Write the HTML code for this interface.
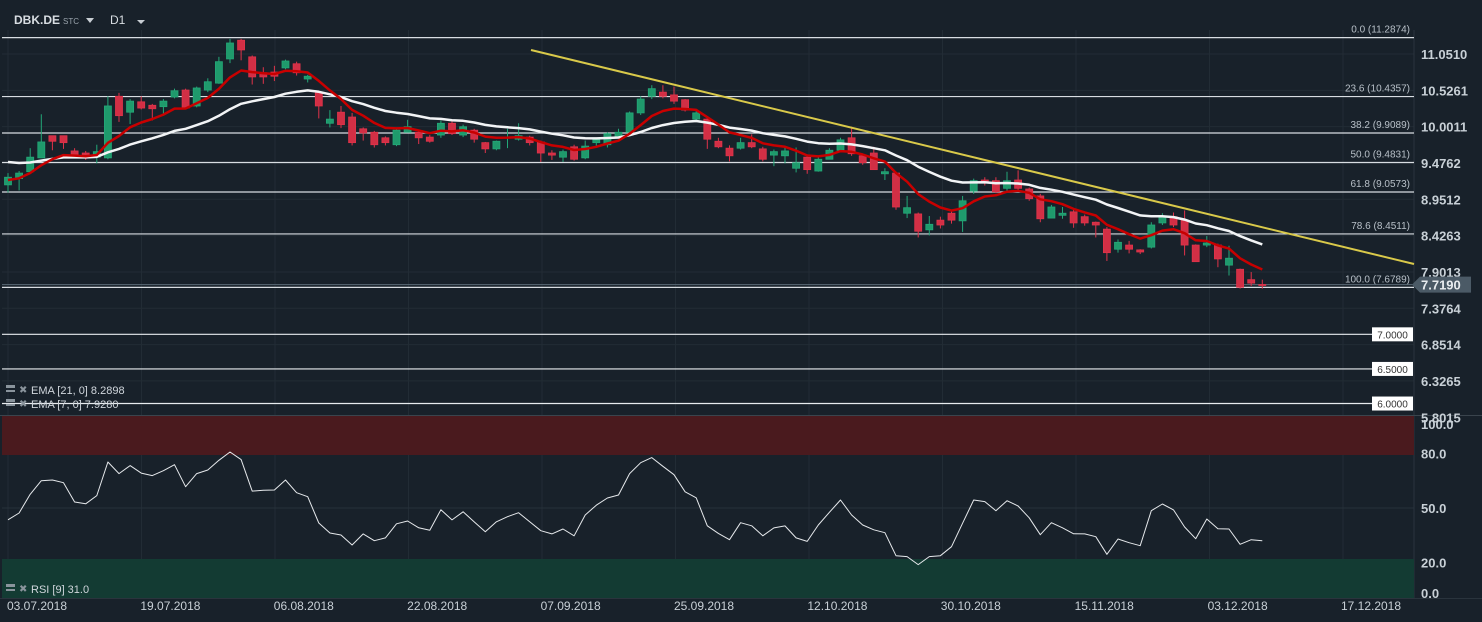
<!DOCTYPE html>
<html><head><meta charset="utf-8">
<style>
html,body{margin:0;padding:0;background:#18212a;overflow:hidden}
svg{display:block;font-family:"Liberation Sans",sans-serif}
</style></head>
<body>
<svg id="c" width="1482" height="622" xmlns="http://www.w3.org/2000/svg">
<rect x="0" y="0" width="1482" height="622" fill="#18212a"/>
<g id="grid"></g>
<rect x="2" y="416" width="1412" height="39" fill="#4a1a1e"/>
<rect x="2" y="559" width="1412" height="39" fill="#133b33"/>
<g id="fib"></g>
<g id="candles"></g>
<g id="emas"></g>
<line x1="531" y1="50" x2="1414" y2="264" stroke="#d9c94a" stroke-width="2"/>
<g id="rsi"></g>
<g id="axes"></g>
<g>
<text x="14" y="24" fill="#d8dde2" font-size="12" font-weight="bold">DBK.DE</text>
<text x="63" y="24" fill="#9aa4ad" font-size="8">STC</text>
<polygon points="86,18 94,18 90,23" fill="#c8ced4"/>
<text x="110" y="24" fill="#d8dde2" font-size="12">D1</text>
<polygon points="137,20 145,20 141,24" fill="#c8ced4"/>
</g>
<g font-size="11" fill="#d0d6dc">
<rect x="6" y="385" width="9" height="3" fill="#8a949c"/><rect x="6" y="390" width="9" height="2" fill="#8a949c"/>
<text x="19" y="393" fill="#8a949c" font-size="10">✖</text>
<text x="31" y="394">EMA [21,  0]  8.2898</text>
<rect x="6" y="399" width="9" height="3" fill="#8a949c"/><rect x="6" y="404" width="9" height="2" fill="#8a949c"/>
<text x="19" y="407" fill="#8a949c" font-size="10">✖</text>
<text x="31" y="408">EMA [7,  0]  7.9280</text>
<rect x="6" y="584" width="9" height="3" fill="#8a949c"/><rect x="6" y="589" width="9" height="2" fill="#8a949c"/>
<text x="19" y="592" fill="#8a949c" font-size="10">✖</text>
<text x="31" y="593">RSI [9]  31.0</text>
</g>
</svg>
<script>
const opens=[9.16,9.25,9.35,9.55,9.87,9.87,9.65,9.62,9.56,9.55,10.44,10.21,10.36,10.31,10.29,10.43,10.53,10.30,10.53,10.63,10.98,11.25,11.01,10.78,10.79,10.85,10.91,10.69,10.49,10.05,10.21,10.14,9.97,9.92,9.84,9.74,9.92,9.92,9.85,9.88,10.05,9.88,9.95,9.77,9.68,9.85,9.82,9.85,9.78,9.62,9.56,9.71,9.55,9.77,9.74,9.85,9.92,10.20,10.44,10.50,10.46,10.39,10.11,10.11,9.79,9.69,9.69,9.77,9.68,9.59,9.58,9.40,9.56,9.36,9.53,9.66,9.84,9.58,9.62,9.32,9.33,8.75,8.74,8.51,8.65,8.75,8.64,9.07,9.23,9.22,9.11,9.23,9.10,9.00,8.68,8.72,8.77,8.70,8.62,8.52,8.23,8.29,8.22,8.26,8.61,8.70,8.65,8.29,8.29,8.29,8.00,7.94,7.79,7.72];
const closes=[9.27,9.33,9.56,9.78,9.79,9.77,9.56,9.55,9.64,10.30,10.16,10.37,10.27,10.26,10.37,10.52,10.27,10.56,10.65,10.94,11.21,11.11,10.72,10.72,10.73,10.95,10.78,10.73,10.30,10.11,10.03,9.77,9.91,9.74,9.77,9.95,10.00,9.84,9.79,10.05,9.90,10.00,9.82,9.68,9.79,9.85,9.87,9.77,9.62,9.59,9.64,9.53,9.72,9.81,9.90,9.92,10.20,10.40,10.55,10.44,10.37,10.24,10.20,9.82,9.71,9.58,9.77,9.71,9.53,9.64,9.65,9.48,9.38,9.53,9.66,9.81,9.61,9.48,9.38,9.35,8.84,8.83,8.49,8.59,8.58,8.65,8.93,9.22,9.20,9.06,9.22,9.11,8.96,8.67,8.84,8.75,8.61,8.61,8.58,8.18,8.33,8.23,8.19,8.58,8.70,8.58,8.29,8.05,8.32,8.09,8.10,7.68,7.74,7.719];
const highs=[9.33,9.36,9.69,10.18,9.87,9.87,9.69,9.65,9.74,10.44,10.49,10.40,10.44,10.33,10.40,10.55,10.55,10.58,10.70,11.01,11.27,11.27,11.03,10.86,10.88,10.97,10.94,10.75,10.51,10.24,10.30,10.20,9.99,9.94,9.86,9.97,10.10,9.95,9.88,10.09,10.09,10.03,9.97,9.78,9.80,9.97,10.05,9.87,9.80,9.66,9.67,9.74,9.80,9.83,9.92,9.97,10.22,10.44,10.60,10.60,10.58,10.40,10.24,10.14,9.84,9.73,9.84,9.89,9.71,9.67,9.72,9.70,9.60,9.56,9.69,9.84,10.00,9.60,9.71,9.40,9.35,9.00,8.76,8.71,8.70,8.80,9.00,9.25,9.27,9.27,9.35,9.37,9.12,9.03,8.87,8.84,8.80,8.73,8.63,8.55,8.37,8.35,8.23,8.62,8.75,8.76,8.79,8.30,8.42,8.31,8.28,7.95,7.90,7.79];
const lows=[9.05,9.08,9.34,9.55,9.66,9.68,9.60,9.52,9.47,9.53,10.07,10.04,10.25,10.09,10.16,10.41,10.27,10.28,10.50,10.62,10.92,10.96,10.61,10.62,10.66,10.83,10.74,10.64,10.12,9.99,9.98,9.73,9.80,9.70,9.73,9.72,9.95,9.75,9.77,9.84,9.88,9.85,9.77,9.62,9.66,9.69,9.80,9.73,9.49,9.52,9.49,9.51,9.53,9.72,9.70,9.90,9.90,10.17,10.40,10.41,10.33,10.22,10.07,9.68,9.69,9.50,9.67,9.69,9.50,9.43,9.47,9.34,9.32,9.35,9.53,9.64,9.58,9.45,9.38,9.23,8.80,8.68,8.40,8.43,8.53,8.60,8.48,9.03,9.15,9.04,9.05,9.08,8.93,8.62,8.80,8.67,8.54,8.57,8.40,8.06,8.18,8.17,8.16,8.24,8.58,8.55,8.14,8.05,8.26,7.97,7.85,7.66,7.70,7.66];
const rsiValues=[43.5,47.2,57.5,65,65.4,63.9,53.3,52.3,56.8,75.3,68.9,73.3,69.2,67.8,70.5,73.8,61.7,68.9,70.9,76.2,80.8,76.6,59.3,59.7,59.9,65.4,58.4,56.2,41.7,36.2,35.1,29.6,35.7,32,33.5,41.3,42.8,39.1,37.7,49,43.4,47.9,42.3,36.9,42.4,45.2,47.4,42.4,37.5,35.7,38.4,34.7,46.1,51.5,55.5,57.1,68.9,74.9,77.7,72.9,68.3,58.9,55.6,40.2,36,32.5,41.9,40.2,34.7,39,40.1,33.5,31.6,40.6,47.6,54.4,46.1,40.6,38,36.4,23.7,23.2,18.8,23.2,23.7,28.7,41.6,54.4,53.5,48.5,54,51.1,44.6,35.3,41.9,39.1,35.8,35.7,34.2,24.5,32.9,30.9,29.2,48.5,52.2,48.9,39.5,33.1,43.9,38.6,38.4,30,32.5,32];
const priceTicks=["11.0510","10.5261","10.0011","9.4762","8.9512","8.4263","7.9013","7.3764","6.8514","6.3265","5.8015"];
const fibLevels=[0.0,23.6,38.2,50.0,61.8,78.6,100.0];
const fibPrices=[11.2874,10.4357,9.9089,9.4831,9.0573,8.4511,7.6789];
const supportLevels=[7.0,6.5,6.0];
const rsiTicks=[100,80,50,20,0];
const dateLabels=["03.07.2018","19.07.2018","06.08.2018","22.08.2018","07.09.2018","25.09.2018","12.10.2018","30.10.2018","15.11.2018","03.12.2018","17.12.2018"];
const ema21Seed=9.49, ema7Seed=9.23, lastPrice=7.719;

const NS="http://www.w3.org/2000/svg";
const X=i=>8+i*11.1;
const Y=p=>54+(11.051-p)*69.2;
const RY=v=>598.8-v*1.817;
function mk(tag,attrs,parent){const e=document.createElementNS(NS,tag);for(const k in attrs)e.setAttribute(k,attrs[k]);parent.appendChild(e);return e;}
const grid=document.getElementById('grid'),fib=document.getElementById('fib'),cg=document.getElementById('candles'),eg=document.getElementById('emas'),rg=document.getElementById('rsi'),ax=document.getElementById('axes');

// grid
for(let k=0;k<11;k++){const gx=8+k*133.5;const l=mk('line',{x1:gx,y1:30,x2:gx,y2:598,stroke:'#222c35','stroke-width':1},grid);

}
priceTicks.forEach(t=>{const gy=Y(parseFloat(t));const l=mk('line',{x1:2,y1:gy,x2:1414,y2:gy,stroke:'#222c35','stroke-width':1},grid);

});
[80,50,20].forEach(v=>{const l=mk('line',{x1:2,y1:RY(v),x2:1414,y2:RY(v),stroke:'#26313a','stroke-width':1},grid);

});
mk('line',{x1:1414,y1:30,x2:1414,y2:598,stroke:'#2a343d'},grid);
mk('line',{x1:0,y1:415.5,x2:1482,y2:415.5,stroke:'#3a444d'},grid);
mk('line',{x1:0,y1:598.5,x2:1482,y2:598.5,stroke:'#2a343d'},grid);

// fib
fibLevels.forEach((f,k)=>{const gy=Y(fibPrices[k]);
const l=mk('line',{x1:2,y1:gy,x2:1414,y2:gy,stroke:'#d8dde2','stroke-width':1.2},fib);


const t=mk('text',{x:1410,y:gy-5,'text-anchor':'end','font-size':10,fill:'#b8c0c8'},fib);
t.textContent=f.toFixed(1)+' ('+fibPrices[k].toFixed(4)+')';

});
supportLevels.forEach(s=>{const gy=Y(s);
const l=mk('line',{x1:2,y1:gy,x2:1372,y2:gy,stroke:'#e8ecef','stroke-width':1.2},fib);


const r=mk('rect',{x:1372,y:gy-7,width:41,height:14,fill:'#ffffff'},fib);


const t=mk('text',{x:1392.5,y:gy+4,'text-anchor':'middle','font-size':10,fill:'#333'},fib);
t.textContent=s.toFixed(4);

});
{const gy=Y(lastPrice);const l=mk('line',{x1:2,y1:gy,x2:1414,y2:gy,stroke:'#5a6a76','stroke-width':1},fib);

}

// candles
for(let i=0;i<opens.length;i++){
 const o=opens[i],c=closes[i],up=c>=o,col=up?'#23a878':'#e0334a',fill=up?'#1f9a6c':'#d22f45';
 const x=X(i);
 const w=mk('line',{x1:x,y1:Y(highs[i]),x2:x,y2:Y(lows[i]),stroke:col,'stroke-width':1},cg);
 
 
 const top=Y(Math.max(o,c)),h=Math.max(1,Y(Math.min(o,c))-top);
 const b=mk('rect',{x:x-3.5,y:top,width:7,height:h,fill:fill,stroke:col,'stroke-width':0.8},cg);
 
 
}
// emas
function ema(n,seed){const a=2/(n+1);let e=seed;return closes.map((c,i)=>{e=i===0?seed:e+a*(c-e);return e;});}
function line(vals,yf,stroke,sw,name,parent){const d=vals.map((v,i)=>(i?'L':'M')+X(i).toFixed(1)+' '+yf(v).toFixed(1)).join(' ');
const p=mk('path',{d:d,fill:'none',stroke:stroke,'stroke-width':sw,'stroke-linejoin':'round'},parent);

}
line(ema(21,ema21Seed),Y,'#f2f4f6',2.5,'ema21-line',eg);
line(ema(7,ema7Seed),Y,'#c80000',2.5,'ema7-line',eg);
line(rsiValues,RY,'#e6e9ec',1,'rsi-line',rg);

// axes
priceTicks.forEach(t=>{const e=mk('text',{x:1421,y:Y(parseFloat(t))+5,'font-size':13,'font-weight':'bold',fill:'#c8d0d6'},ax);e.textContent=t;

});
{const gy=Y(lastPrice);const p=mk('polygon',{points:`1412,${gy} 1420,${gy-8} 1471,${gy-8} 1471,${gy+8} 1420,${gy+8}`,fill:'#4b5a66'},ax);


const t=mk('text',{x:1421,y:gy+5,'font-size':13,'font-weight':'bold',fill:'#e8ecef'},ax);t.textContent=lastPrice.toFixed(4);

}
rsiTicks.forEach(v=>{const gy=Math.min(Math.max(RY(v),424),593);const t=mk('text',{x:1421,y:gy+5,'font-size':13,'font-weight':'bold',fill:'#c8d0d6'},ax);t.textContent=v.toFixed(1);

});
dateLabels.forEach((d,k)=>{const t=mk('text',{x:37+k*133.4,y:610,'text-anchor':'middle','font-size':12,fill:'#c8d0d6'},ax);t.textContent=d;

});
</script>
</body></html>
